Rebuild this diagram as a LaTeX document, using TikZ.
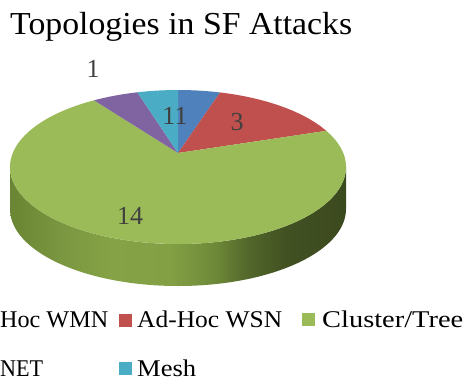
\documentclass[tikz,border=0pt]{standalone}
\usepackage{fontspec}
\setmainfont{Liberation Serif}
\usepackage{graphicx}
\usetikzlibrary{calc}

% series colours
\definecolor{serBlue}{HTML}{4F81BD}
\definecolor{serRed}{HTML}{C0504D}
\definecolor{serGreen}{HTML}{9BBB59}
\definecolor{serPurple}{HTML}{8064A2}
\definecolor{serTeal}{HTML}{4BACC6}
\definecolor{labelGray}{HTML}{404040}

% rim of the green slice, lit from the front left
\definecolor{rimA}{HTML}{6A8533}
\definecolor{rimB}{HTML}{7A9640}
\definecolor{rimC}{HTML}{85A246}
\definecolor{rimD}{HTML}{83A045}
\definecolor{rimE}{HTML}{6E8938}
\definecolor{rimF}{HTML}{52662A}
\definecolor{rimG}{HTML}{425122}
\definecolor{rimH}{HTML}{3B491E}
\pgfdeclarehorizontalshading{pierim}{100bp}{%
  color(0bp)=(rimA); color(25bp)=(rimA); color(32.4bp)=(rimB);
  color(39.9bp)=(rimC); color(48.8bp)=(rimD); color(55.5bp)=(rimE);
  color(60.5bp)=(rimF); color(66bp)=(rimG); color(75bp)=(rimH);
  color(100bp)=(rimH)}

% stretch a text to a given width, keeping its height
\newcommand\fitw[2]{\resizebox{#1}{\height}{#2}}

\tikzset{
  pie/.style={x radius=168pt, y radius=77pt},
  datalabel/.style={inner sep=0pt, text=labelGray,
    font=\fontsize{26}{30}\selectfont},
  legendtext/.style={anchor=base west, inner sep=0pt,
    font=\fontsize{24}{28}\selectfont}
}

\begin{document}
\begin{tikzpicture}[x=1pt,y=1pt]
\useasboundingbox (0,0) rectangle (473,-380);

% title
\node[anchor=base west, inner sep=0pt, font=\fontsize{32}{38}\selectfont]
  (title) at (10,-34) {\fitw{342pt}{Topologies in SF Attacks}};

% pie geometry: ellipse centre, apex of the slices, rim depth 42
\coordinate (O) at (178,-167);
\coordinate (A) at (178,-153);
\path (O) ++(90:168pt and 77pt)   coordinate (p90)
      (O) ++(75.5:168pt and 77pt) coordinate (p75)
      (O) ++(28:168pt and 77pt)   coordinate (p28)
      (O) ++(120:168pt and 77pt)  coordinate (p120)
      (O) ++(104:168pt and 77pt)  coordinate (p104)
      (O) ++(180:168pt and 77pt)  coordinate (pL);

% rim (only the green slice shows at the front)
\shade[shading=pierim] (pL) arc[pie, start angle=180, end angle=360]
  -- ++(0,-42) arc[pie, start angle=0, end angle=-180] -- cycle;

% top face
\fill[serBlue]   (A) -- (p90)  arc[pie, start angle=90,  end angle=75.5] -- cycle;
\fill[serRed]    (A) -- (p75)  arc[pie, start angle=75.5,end angle=28]   -- cycle;
\fill[serGreen]  (A) -- (p28)  arc[pie, start angle=28,  end angle=-240] -- cycle;
\fill[serPurple] (A) -- (p120) arc[pie, start angle=120, end angle=104]  -- cycle;
\fill[serTeal]   (A) -- (p104) arc[pie, start angle=104, end angle=90]   -- cycle;

% data labels
\node[datalabel] (vMesh)  at (175,-116) {11};
\node[datalabel] (vWSN)   at (237,-122) {3};
\node[datalabel] (vTree)  at (130,-216) {14};
\node[datalabel] (vNET)   at (93,-69)   {1};

% legend
\node[legendtext] (lgWMN) at (0,-327) {\fitw{108pt}{Hoc WMN}};
\fill[serRed] (119,-314) rectangle (132,-327);
\node[legendtext] (lgWSN) at (137,-327) {\fitw{145pt}{Ad-Hoc WSN}};
\fill[serGreen] (302,-313) rectangle (315,-326);
\node[legendtext] (lgTree) at (322,-327) {\fitw{141pt}{Cluster/Tree}};
\node[legendtext] (lgNET) at (0,-376) {\fitw{43pt}{NET}};
\fill[serTeal] (119,-362) rectangle (132,-375);
\node[legendtext] (lgMesh) at (137,-376) {\fitw{59pt}{Mesh}};
\end{tikzpicture}
\end{document}
